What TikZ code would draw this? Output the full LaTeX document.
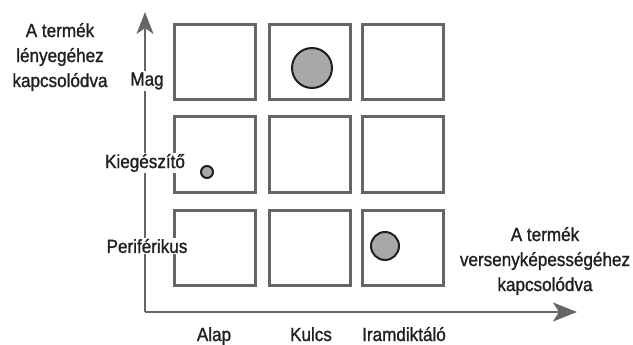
\documentclass[tikz,border=0pt]{standalone}
\usepackage{fontspec}
\setmainfont{Liberation Sans}[FakeStretch=0.9,FakeBold=1.2]
\usetikzlibrary{arrows.meta}
\definecolor{boxgray}{HTML}{666666}
\definecolor{dotgray}{HTML}{A7A8AA}
\definecolor{ink}{HTML}{231F20}
\begin{document}
\begin{tikzpicture}[x=1pt,y=-1pt,
  cell/.style={draw=boxgray,line width=2.6pt,minimum width=81.5pt,minimum height=75.5pt,inner sep=0pt},
  dot/.style={circle,draw=ink,fill=dotgray,line width=2pt,inner sep=0pt},
  lbl/.style={text=ink,font=\fontsize{19}{25}\selectfont,inner sep=1pt},
  axisline/.style={draw=boxgray,line width=2.4pt}]
\useasboundingbox (0,0) rectangle (633,345);
% cells
\node[cell] (c11) at (215,62) {};
\node[cell] (c12) at (310,62) {};
\node[cell] (c13) at (403,62) {};
\node[cell] (c21) at (215,154.5) {};
\node[cell] (c22) at (310,154.5) {};
\node[cell] (c23) at (403,154.5) {};
\node[cell] (c31) at (215,248) {};
\node[cell] (c32) at (310,248) {};
\node[cell] (c33) at (403,248) {};
% axes
\coordinate (org) at (145,312);
\coordinate (ytip) at (145,12);
\coordinate (xtip) at (577,312);
\draw[axisline,-{Stealth[length=22pt,width=17pt,inset=6pt]}] (org) -- (ytip);
\draw[axisline,-{Stealth[length=24pt,width=19pt,inset=6pt]}] (org) -- (xtip);
% dots
\node[dot,minimum size=40pt] (d1) at (312,68) {};
\node[dot,minimum size=12pt] (d2) at (207,172) {};
\node[dot,minimum size=28pt] (d3) at (385,246) {};
% labels
\node[lbl,align=center] (ylab) at (60,57) {A termék\\lényegéhez\\kapcsolódva};
\node[lbl,fill=white] (mag) at (147,81) {Mag};
\node[lbl,fill=white] (kieg) at (145,163) {Kiegészítő};
\node[lbl,fill=white] (peri) at (147,246) {Periférikus};
\node[lbl,align=center] (xlab) at (545,261) {A termék\\versenyképességéhez\\kapcsolódva};
\node[lbl,anchor=base] (alap) at (214,341) {Alap};
\node[lbl,anchor=base] (kulcs) at (311,341) {Kulcs};
\node[lbl,anchor=base] (iram) at (404,341) {Iramdiktáló};
\end{tikzpicture}
\end{document}
